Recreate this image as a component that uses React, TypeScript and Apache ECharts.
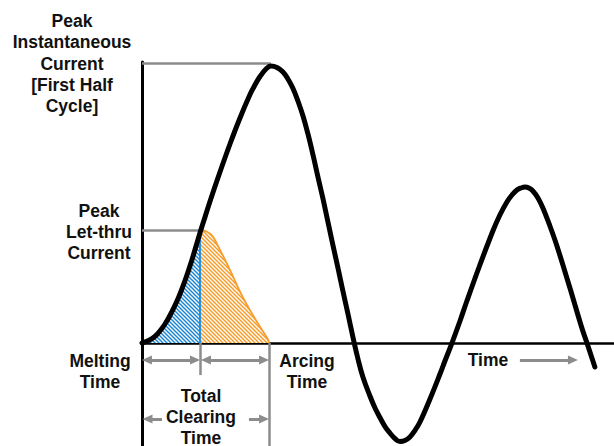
import React, { useEffect, useRef } from "react";
import * as echarts from "echarts";

// Fault current waveform (time in ms, current in % of peak)
const curveTime = [0, 0.4, 0.67, 0.94, 1.2, 1.54, 1.87, 2.41, 2.88, 3.35, 3.61, 3.88, 4.22, 4.55, 5.22, 5.89, 6.56, 7.23, 7.56, 7.9, 8.3, 8.63, 9.04, 9.44, 9.77, 10.11, 10.44, 10.78, 11.11, 11.45, 11.78, 12.12, 12.45, 12.78, 13.12, 13.45, 13.79, 14.12, 14.46, 14.79, 15.26, 15.6, 15.93, 16.27, 16.6, 16.93, 17.27, 17.6, 17.94, 18.27, 18.61, 19.28, 19.95, 20.28, 20.75, 21.29, 21.75, 22.62, 23.49, 23.96, 24.43, 24.77, 25.1, 25.37, 25.64, 25.9, 26.17, 26.51, 26.84, 27.31, 27.78, 28.65, 29.45, 29.79, 30.32];
const curveCurrent = [0, 0.78, 1.57, 2.7, 4.27, 6.76, 9.79, 15.77, 22.24, 29.72, 34.34, 39.15, 44.84, 50.36, 60.85, 70.82, 80.07, 88.43, 91.81, 94.84, 97.51, 98.58, 98.04, 96.44, 93.95, 90.57, 86.12, 80.78, 74.38, 66.9, 59.07, 51.25, 43.06, 34.88, 26.69, 18.51, 10.32, 2.14, -5.69, -12.1, -18.86, -23.13, -26.51, -29.72, -32.03, -33.99, -35.05, -34.7, -33.45, -31.14, -28.11, -19.93, -11.03, -6.41, 0, 7.83, 14.95, 27.76, 39.86, 45.55, 50.18, 52.67, 54.45, 55.16, 55.52, 55.16, 54.09, 51.6, 48.04, 41.64, 34.52, 19.57, 5.34, 0, -8.54];

// Melting (let-thru) region
const meltTime = [0, 0.4, 0.67, 0.94, 1.2, 1.54, 1.87, 2.41, 2.88, 3.35, 3.61, 3.88];
const meltCurrent = [0, 0.78, 1.57, 2.7, 4.27, 6.76, 9.79, 15.77, 22.24, 29.72, 34.34, 39.15];

// Arcing region
const arcTime = [3.88, 4.0, 4.22, 4.67, 5.22, 5.89, 6.56, 7.23, 7.9, 8.45, 8.5];
const arcCurrent = [40.0, 40.2, 39.9, 38.4, 33.1, 26.0, 18.3, 11.7, 5.8, 1.1, 0];

const peakCurrent = 99.6;
const peakTime = 8.63;
const letThruCurrent = 40.2;
const meltingEnd = 3.88;
const clearingEnd = 8.5;

const FONT = 'bold 17.5px "Liberation Sans", Arial, sans-serif';
const GRAY = "#8c8c8c";
const BLUE = "#1a88d4";
const ORANGE = "#f79c2a";

function hatch(color: string) {
  const s = 4;
  const c = document.createElement("canvas");
  c.width = s;
  c.height = s;
  const ctx = c.getContext("2d")!;
  ctx.fillStyle = "#fff";
  ctx.fillRect(0, 0, s, s);
  ctx.strokeStyle = color;
  ctx.lineWidth = 1.5;
  ctx.beginPath();
  ctx.moveTo(0, 0);
  ctx.lineTo(s, s);
  ctx.moveTo(-1, s - 1);
  ctx.lineTo(1, s + 1);
  ctx.moveTo(s - 1, -1);
  ctx.lineTo(s + 1, 1);
  ctx.stroke();
  return { image: c, repeat: "repeat", imageWidth: s, imageHeight: s } as any;
}

function pairs(xs: number[], ys: number[]) {
  return xs.map((x, i) => [x, ys[i]]);
}

export default function App() {
  const ref = useRef<HTMLDivElement>(null);
  useEffect(() => {
    if (!ref.current) return;
    const chart = echarts.init(ref.current, undefined, { renderer: "svg" });
    const yMin = -36.65;
    const arrowY = -6.05;
    const clearY = -27.0;
    const tri = (a: number[], b: number[], s0: string, s1: string) => [
      { coord: a, symbol: s0 },
      { coord: b, symbol: s1 },
    ];
    const text = (t: string, x: number, y: number, lh = 21.3) => ({
      type: "text",
      x,
      y,
      silent: true,
      style: {
        text: t,
        font: FONT,
        fill: "#111",
        align: "center",
        verticalAlign: "middle",
        lineHeight: lh,
      },
    });
    chart.setOption({
      animation: false,
      backgroundColor: "#fff",
      grid: { left: 142, top: 62, right: 0, bottom: 0, containLabel: false },
      xAxis: {
        type: "value",
        min: 0,
        max: 31.6,
        axisLine: { show: true, onZero: true, lineStyle: { color: "#000", width: 2.5 } },
        axisTick: { show: false },
        axisLabel: { show: false },
        splitLine: { show: false },
      },
      yAxis: {
        type: "value",
        min: yMin,
        max: 100,
        axisLine: { show: true, onZero: false, lineStyle: { color: "#000", width: 3 } },
        axisTick: { show: false },
        axisLabel: { show: false },
        splitLine: { show: false },
      },
      series: [
        {
          type: "line",
          name: "melt",
          data: pairs(meltTime, meltCurrent),
          smooth: 0.4,
          symbol: "none",
          z: 1,
          lineStyle: { width: 0 },
          areaStyle: { color: hatch(BLUE), opacity: 1 },
          markLine: {
            silent: true,
            symbol: "none",
            label: { show: false },
            lineStyle: { color: BLUE, width: 1.8, type: "solid" },
            data: [[{ coord: [meltingEnd, 0] }, { coord: [meltingEnd, letThruCurrent] }]],
          },
        },
        {
          type: "line",
          name: "arc",
          data: pairs(arcTime, arcCurrent),
          smooth: 0.4,
          symbol: "none",
          z: 1,
          lineStyle: { width: 1.8, color: ORANGE },
          areaStyle: { color: hatch(ORANGE), opacity: 1 },
        },
        {
          type: "line",
          name: "guides",
          data: [],
          symbol: "none",
          z: 2,
          markLine: {
            silent: true,
            symbol: "none",
            label: { show: false },
            lineStyle: { color: GRAY, width: 2.5, type: "solid" },
            data: [
              [{ coord: [0, peakCurrent] }, { coord: [peakTime, peakCurrent] }],
              [{ coord: [0, letThruCurrent] }, { coord: [meltingEnd, letThruCurrent] }],
              [{ coord: [meltingEnd, 0] }, { coord: [meltingEnd, -11.4] }],
              [{ coord: [clearingEnd, 0] }, { coord: [clearingEnd, yMin] }],
            ],
          },
        },
        {
          type: "line",
          name: "arrows",
          data: [],
          symbol: "none",
          z: 2,
          markLine: {
            silent: true,
            symbolSize: [9, 10],
            label: { show: false },
            lineStyle: { color: GRAY, width: 3, type: "solid" },
            itemStyle: { color: GRAY },
            data: [
              tri([0.33, arrowY], [3.55, arrowY], "triangle", "triangle"),
              tri([4.28, arrowY], [8.17, arrowY], "triangle", "triangle"),
              tri([0.37, clearY], [1.34, clearY], "triangle", "none"),
              tri([7.16, clearY], [8.17, clearY], "none", "triangle"),
              tri([25.3, arrowY], [28.85, arrowY], "none", "triangle"),
            ],
          },
        },
        {
          type: "line",
          name: "current",
          data: pairs(curveTime, curveCurrent),
          smooth: 0.4,
          symbol: "none",
          z: 5,
          lineStyle: { color: "#000", width: 5, cap: "round", join: "round" },
        },
      ],
      graphic: [
        text("Peak\nInstantaneous\nCurrent\n[First Half\nCycle]", 72, 63.6),
        text("Peak\nLet-thru\nCurrent", 99, 232, 21),
        text("Melting\nTime", 100, 371, 21),
        text("Arcing\nTime", 307, 371, 21),
        text("Total\nClearing\nTime", 201, 417, 21),
        text("Time", 488, 360),
      ],
    });
    return () => chart.dispose();
  }, []);
  return (
    <div
      ref={ref}
      style={{ position: "absolute", left: 0, top: 0, width: 614, height: 446, background: "#fff" }}
    />
  );
}
